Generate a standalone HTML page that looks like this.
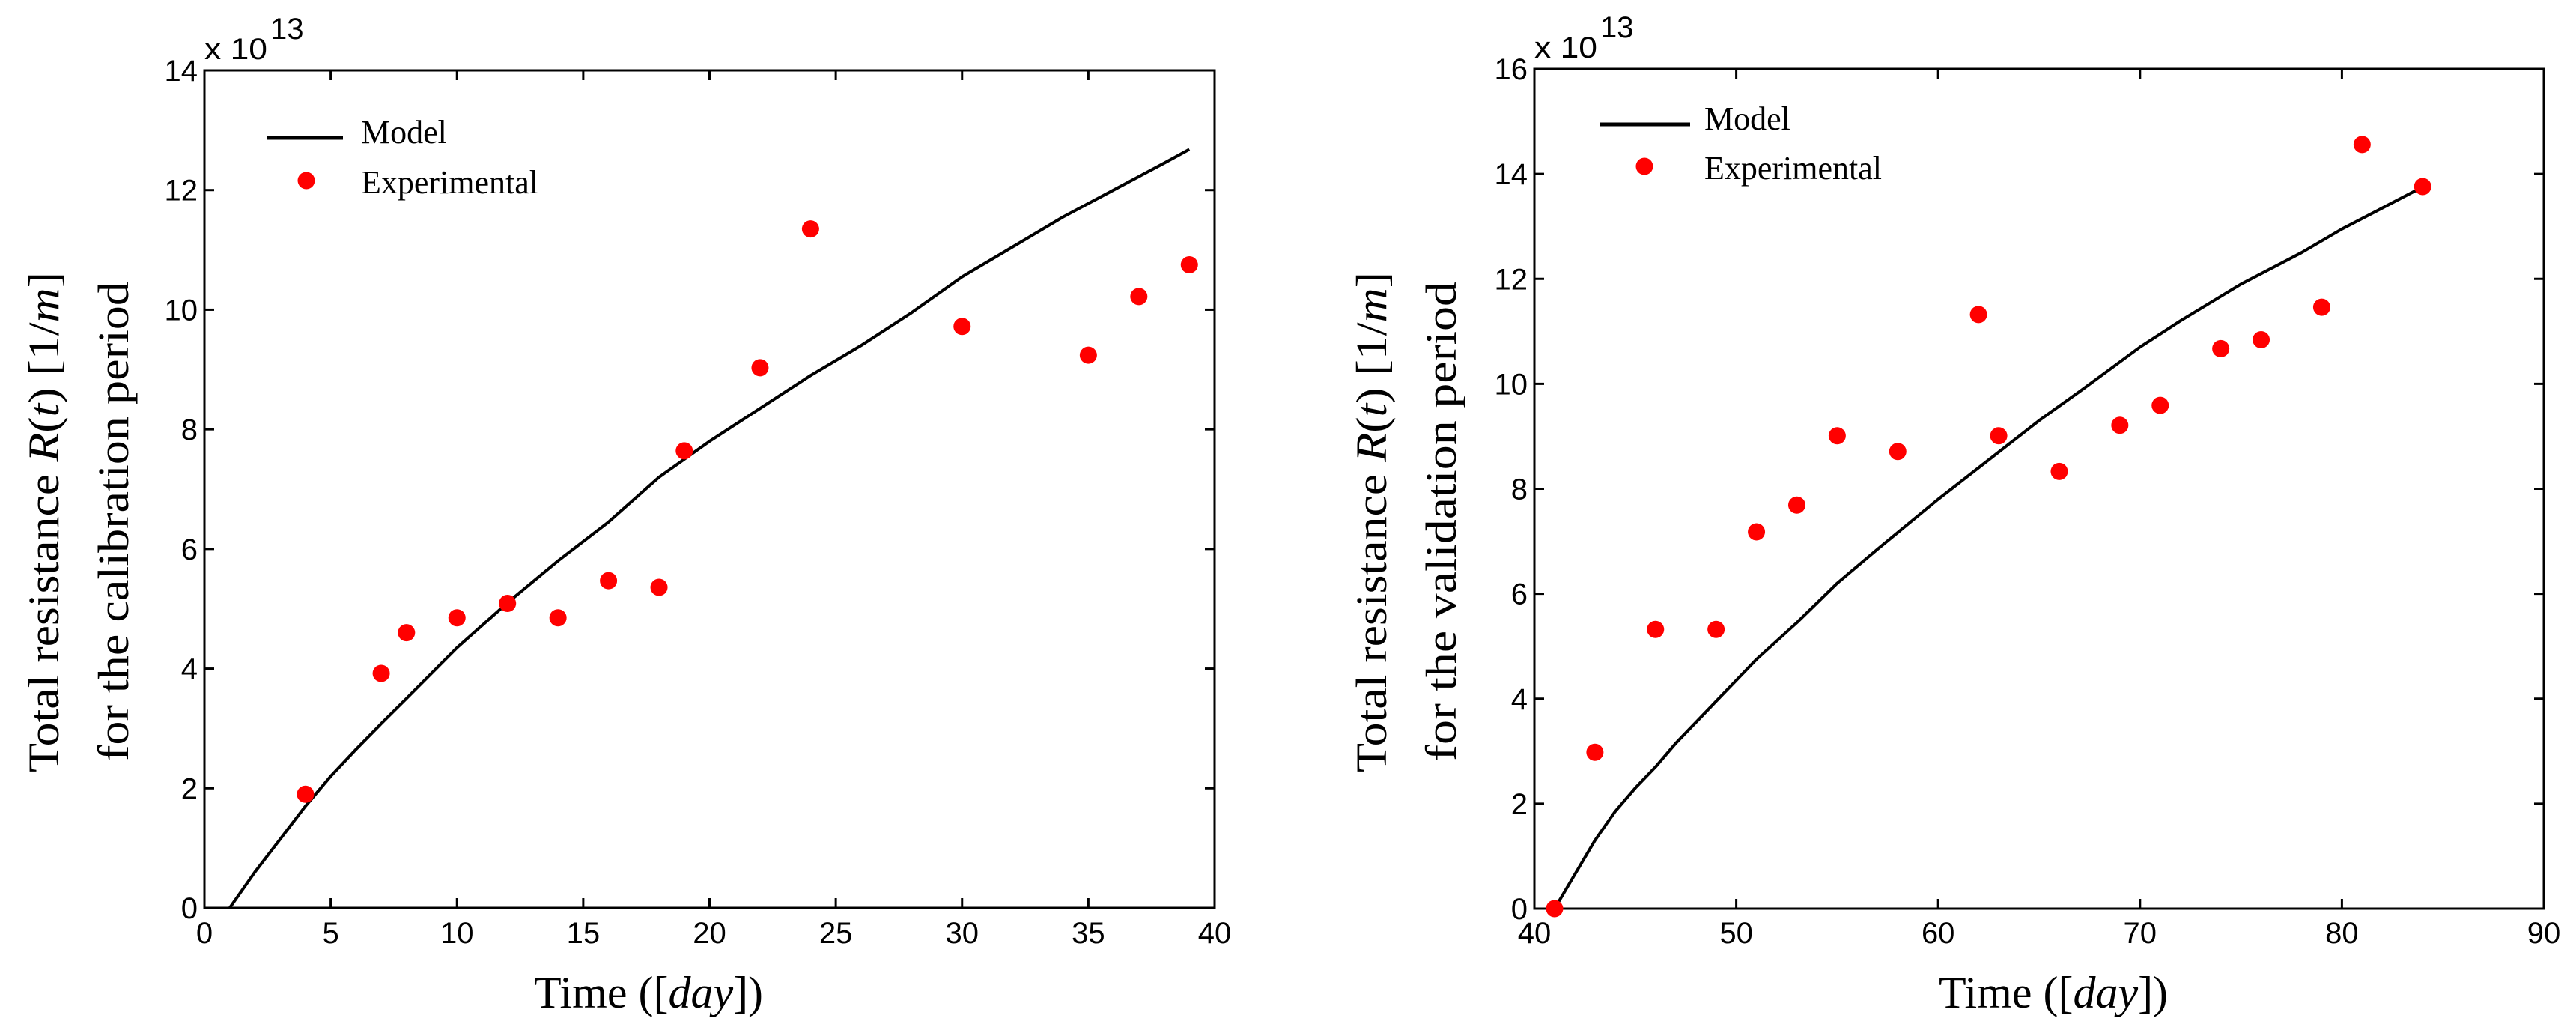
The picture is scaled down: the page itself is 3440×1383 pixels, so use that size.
<!DOCTYPE html>
<html><head><meta charset="utf-8"><style>
html,body{margin:0;padding:0;background:#fff;}
svg{display:block;}
.tk{font-family:"Liberation Sans",Arial,sans-serif;font-size:40px;fill:#000;}
.sf{font-family:"Liberation Serif","Times New Roman",serif;fill:#000;}
</style></head><body>
<svg id="chart" width="3440" height="1383" viewBox="0 0 3440 1383" xmlns="http://www.w3.org/2000/svg">
<g id="p1"></g>
<g id="p2"></g>
</svg>
<script>
// Calibration data
const calExpX = [4,7,8,10,12,14,16,18,19,22,24,30,35,37,39];
const calExpY = [1.90,3.92,4.60,4.85,5.09,4.85,5.47,5.36,7.64,9.03,11.35,9.72,9.24,10.22,10.75];
const calModelX = [1,2,3,4,5,6,7,8,10,12,14,16,18,20,22,24,26,28,30,32,34,36,38,39];
const calModelY = [0,0.6,1.15,1.7,2.2,2.65,3.08,3.5,4.35,5.1,5.8,6.45,7.2,7.8,8.35,8.9,9.4,9.95,10.55,11.05,11.55,12.0,12.45,12.68];
const calXTicks = [0,5,10,15,20,25,30,35,40];
const calYTicks = [0,2,4,6,8,10,12,14];
// Validation data
const valExpX = [41,43,46,49,51,53,55,58,62,63,66,69,71,74,76,79,81,84];
const valExpY = [0,2.98,5.32,5.32,7.18,7.69,9.01,8.71,11.32,9.01,8.33,9.21,9.59,10.67,10.84,11.46,14.56,13.76];
const valModelX = [41,42,43,44,45,46,47,48,49,50,51,53,55,57,60,62,65,67,70,72,75,78,80,82,84];
const valModelY = [0,0.65,1.3,1.85,2.3,2.7,3.15,3.55,3.95,4.35,4.75,5.45,6.2,6.85,7.8,8.4,9.3,9.85,10.7,11.2,11.9,12.5,12.95,13.35,13.75];
const valXTicks = [40,50,60,70,80,90];
const valYTicks = [0,2,4,6,8,10,12,14,16];

const NS="http://www.w3.org/2000/svg";
function mk(parent,tag,attrs,text){const e=document.createElementNS(NS,tag);for(const k in attrs)e.setAttribute(k,attrs[k]);if(text!==undefined)e.textContent=text;parent.appendChild(e);return e;}

function drawPlot(g,cfg){
  const {L,R,T,B,xmin,xmax,ymin,ymax,xt,yt,mx,my,ex,ey,dx,lab2,leg}=cfg;
  const sx=v=>L+(v-xmin)/(xmax-xmin)*(R-L);
  const sy=v=>B-(v-ymin)/(ymax-ymin)*(B-T);
  const frame=mk(g,'rect',{x:L,y:T,width:R-L,height:B-T,fill:'none',stroke:'#000','stroke-width':3});
  
  
  xt.forEach(v=>{
    const x=sx(v);
    mk(g,'line',{x1:x,y1:B,x2:x,y2:B-13,stroke:'#000','stroke-width':3});
    mk(g,'line',{x1:x,y1:T,x2:x,y2:T+13,stroke:'#000','stroke-width':3});
    const t=mk(g,'text',{x:x,y:1259,'text-anchor':'middle',class:'tk'},String(v));
    
    
  });
  yt.forEach(v=>{
    const y=sy(v);
    mk(g,'line',{x1:L,y1:y,x2:L+13,y2:y,stroke:'#000','stroke-width':3});
    mk(g,'line',{x1:R,y1:y,x2:R-13,y2:y,stroke:'#000','stroke-width':3});
    const t=mk(g,'text',{x:L-9,y:y+14,'text-anchor':'end',class:'tk'},String(v));
    
    
  });
  const ex10=mk(g,'text',{x:L,y:T-15,class:'tk',textLength:84,lengthAdjust:'spacingAndGlyphs'});
  
  
  ex10.textContent='x 10';
  mk(g,'text',{x:L+88,y:T-42,class:'tk','font-size':'28'},'13');
  // model line
  const pts=mx.map((x,i)=>sx(x).toFixed(1)+','+sy(my[i]).toFixed(1)).join(' ');
  const pl=mk(g,'polyline',{points:pts,fill:'none',stroke:'#000','stroke-width':4,'stroke-linejoin':'round'});
  
  
  ex.forEach((x,i)=>{
    const c=mk(g,'circle',{cx:sx(x),cy:sy(ey[i]),r:11.5,fill:'#ff0000'});
    
    
  });
  // legend
  const lg=mk(g,'g',{});
  
  
  mk(lg,'line',{x1:leg.x1,y1:leg.ly,x2:leg.x2,y2:leg.ly,stroke:'#000','stroke-width':5});
  mk(lg,'text',{x:leg.tx,y:leg.ly+7,class:'sf','font-size':'44'},'Model');
  mk(lg,'circle',{cx:leg.dx,cy:leg.dy,r:11.5,fill:'#ff0000'});
  mk(lg,'text',{x:leg.tx,y:leg.dy+17,class:'sf','font-size':'44'},'Experimental');
  // axis titles
  const xtl=mk(g,'text',{x:cfg.xtc,y:1345,'text-anchor':'middle',class:'sf','font-size':'60'});
  
  
  xtl.innerHTML='Time ([<tspan font-style="italic">day</tspan>])';
  const y1=mk(g,'text',{x:0,y:0,class:'sf','font-size':'58','text-anchor':'middle',textLength:668,lengthAdjust:'spacingAndGlyphs',transform:`translate(${78+dx},697) rotate(-90)`});
  
  
  y1.innerHTML='Total resistance <tspan font-style="italic">R</tspan>(<tspan font-style="italic">t</tspan>) [1/<tspan font-style="italic">m</tspan>]';
  const y2=mk(g,'text',{x:0,y:0,class:'sf','font-size':'58','text-anchor':'middle',textLength:640,lengthAdjust:'spacingAndGlyphs',transform:`translate(${171+dx},696) rotate(-90)`},lab2);
  
  
}

drawPlot(document.getElementById('p1'),{L:273,R:1622,T:94,B:1212,xmin:0,xmax:40,ymin:0,ymax:14,
  xt:calXTicks,yt:calYTicks,mx:calModelX,my:calModelY,ex:calExpX,ey:calExpY,dx:0,
  lab2:'for the calibration period',xtc:866,
  leg:{x1:357,x2:458,ly:184,tx:482,dx:409,dy:241}});
drawPlot(document.getElementById('p2'),{L:2049,R:3397,T:92,B:1213,xmin:40,xmax:90,ymin:0,ymax:16,
  xt:valXTicks,yt:valYTicks,mx:valModelX,my:valModelY,ex:valExpX,ey:valExpY,dx:1773,
  lab2:'for the validation period',xtc:2742,
  leg:{x1:2136,x2:2257,ly:166,tx:2276,dx:2196,dy:222}});
</script>
</body></html>
